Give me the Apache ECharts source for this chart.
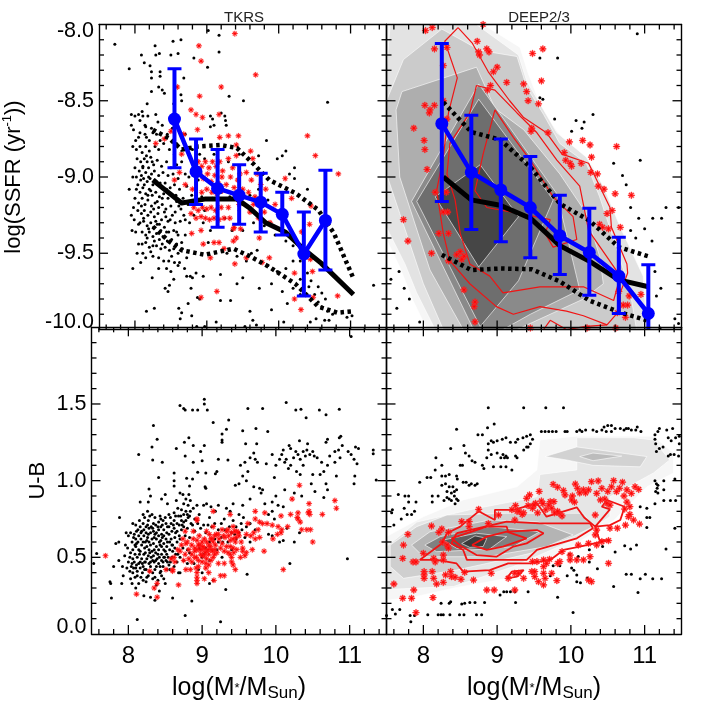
<!DOCTYPE html>
<html><head><meta charset="utf-8">
<style>html,body{margin:0;padding:0;background:#fff}#c{width:709px;height:709px}</style>
<script src="https://cdn.jsdelivr.net/npm/echarts@6/dist/echarts.min.js"></script>
</head><body><div id="c"></div>
<script>
const xMajor=[8,9,10,11];
const xMinor=[7.6,7.8,8.2,8.4,8.6,8.8,9.2,9.4,9.6,9.8,10.2,10.4,10.6,10.8,11.2,11.4];
const ssfrMajor=[-9.5,-9,-8.5];
const ssfrMinor=[-9.9,-9.8,-9.7,-9.6,-9.4,-9.3,-9.2,-9.1,-8.9,-8.8,-8.7,-8.6,-8.4,-8.3,-8.2,-8.1];
const ubMajor=[.5,1,1.5];
const ubMinor=[.1,.2,.3,.4,.6,.7,.8,.9,1.1,1.2,1.3,1.4,1.6,1.7,1.8,1.9];

/* TKRS SSFR panel */
const aBlack=[7.72,-8.13,7.92,-8.29,8.09,-8.2,8.13,-8.25,8.28,-8.14,8.21,-8.27,8.23,-8.31,8.23,-8.35,8.34,-8.19,8.29,-8.2,8.35,-8.31,8.35,-8.34,8.53,-8.11,8.64,-8.1,8.5,-8.2,8.6,-8.19,9.17,-8.07,9.02,-8.04,9.17,-8.18,8.82,-8.22,9.01,-8.28,8.68,-8.35,8.33,-8.41,8.38,-8.43,8.23,-8.44,8.41,-8.45,9.31,-8.47,9.51,-8.5,10.68,-8.51,8.17,-8.52,8.54,-8.52,8.65,-8.5,8.64,-8.46,
7.95,-8.59,8,-8.6,8.05,-8.59,8.1,-8.57,8.07,-8.63,8.11,-8.6,8.14,-8.66,7.95,-8.66,7.98,-8.69,8.15,-8.67,8.07,-8.71,8.05,-8.74,8.01,-8.76,7.97,-8.8,8.07,-8.8,8.14,-8.72,8.2,-8.76,8.25,-8.71,8.29,-8.59,8.18,-8.6,8.38,-8.66,8.32,-8.64,8.02,-8.82,8.1,-8.84,8.15,-8.8,8.2,-8.83,8.28,-8.8,8.33,-8.82,8.4,-8.78,8.48,-8.82,8.55,-8.85,8.03,-8.88,8.08,-8.9,8.13,-8.88,8.17,-8.9,8.22,-8.87,8.26,-8.92,8.31,-8.89,8.37,-8.93,8.44,-8.9,8.5,-8.94,8.58,-8.92,8.65,-8.9,8,-8.94,8.06,-8.96,8.11,-8.94,8.15,-8.97,8.19,-8.94,8.23,-8.98,8.27,-8.96,8.33,-8.99,8.39,-8.97,8.46,-8.99,8.53,-8.98,8.6,-9.01,8.7,-8.98,7.92,-9.08,8.02,-9,8.08,-9.02,8.12,-9.01,8.17,-9.03,8.21,-9.01,8.25,-9.05,8.3,-9.03,8.36,-9.06,8.42,-9.04,8.49,-9.07,8.55,-9.05,8.62,-9.08,8.72,-9.06,8.02,-9.08,8.07,-9.1,8.11,-9.07,8.15,-9.11,8.2,-9.08,8.24,-9.12,8.29,-9.1,8.34,-9.13,8.4,-9.11,8.46,-9.14,8.52,-9.12,8.58,-9.16,8.67,-9.14,8,-9.14,8.05,-9.17,8.1,-9.14,8.14,-9.18,8.18,-9.15,8.23,-9.19,8.28,-9.17,8.33,-9.2,8.38,-9.18,8.43,-9.21,8.5,-9.19,8.56,-9.23,8.64,-9.21,7.98,-9.2,8.04,-9.22,8.09,-9.24,8.13,-9.22,8.18,-9.25,8.22,-9.23,8.27,-9.26,8.32,-9.24,8.37,-9.28,8.43,-9.26,8.49,-9.28,8.56,-9.3,8.63,-9.29,7.99,-9.28,8.07,-9.3,8.12,-9.29,8.17,-9.32,8.22,-9.3,8.26,-9.33,8.31,-9.31,8.36,-9.35,8.41,-9.33,8.47,-9.36,8.54,-9.35,8.6,-9.38,8.01,-9.36,8.1,-9.36,8.15,-9.38,8.2,-9.36,8.25,-9.39,8.3,-9.37,8.34,-9.41,8.39,-9.39,8.45,-9.42,8.51,-9.41,8.58,-9.44,8.65,-9.43,8.05,-9.44,8.1,-9.44,8.15,-9.43,8.2,-9.46,8.25,-9.45,8.3,-9.45,8.36,-9.47,8.42,-9.46,8.48,-9.48,8.54,-9.47,8.6,-9.5,7.97,-9.6,8.08,-9.56,8.15,-9.53,8.25,-9.52,8.33,-9.53,8.4,-9.55,8.47,-9.55,8.55,-9.56,8.62,-9.56,8.72,-9.53,8.5,-9.62,8.54,-9.67,8.48,-9.71,8.42,-9.73,8.46,-9.75,8.72,-9.65,8.77,-9.65,8.8,-9.66,8.85,-9.63,8.95,-9.65,9.19,-9.64,8.78,-9.73,8.87,-9.79,8.9,-9.8,
8.16,-9.88,8.27,-9.86,8.61,-9.86,8.65,-9.89,8.74,-9.83,8.79,-9.91,8.63,-9.93,8.86,-9.98,8.97,-9.98,9.13,-9.95,9.19,-9.81,9.33,-9.81,9.53,-9.98,9.64,-9.94,9.69,-9.97,10.07,-9.95,11.32,-9.71,
9.2,-8.58,9.25,-8.6,9.26,-8.63,9.05,-8.6,9.08,-8.62,9.1,-8.66,9.05,-8.67,9.27,-8.66,8.7,-8.72,8.8,-8.82,8.9,-8.85,8.97,-8.88,9.1,-8.85,9.3,-8.9,9.45,-8.85,9.72,-8.86,9.83,-8.76,9.98,-8.88,10.1,-8.83,10.05,-8.86,10.22,-8.94,10.15,-8.98,10.22,-9.01,10.4,-9.08,8.85,-9.08,8.93,-9.13,9,-9.02,9.08,-9.14,9.2,-9.1,9.32,-9.13,9.45,-9.22,9.5,-9.18,9.6,-9.12,9.72,-9.08,9.85,-9.15,8.7,-9.28,8.82,-9.25,8.95,-9.3,9.05,-9.35,9.15,-9.3,9.25,-9.27,9.35,-9.35,9.5,-9.35,9.65,-9.3,9.8,-9.32,9.95,-9.38,10.1,-9.42,10.2,-9.45,9.02,-9.43,9.28,-9.5,9.42,-9.52,9.55,-9.55,9.62,-9.5,9.7,-9.48,9.85,-9.58,9.98,-9.62,10.1,-9.6,10.2,-9.55,10.3,-9.55,10.4,-9.63,10.45,-9.68,10.55,-9.72,10.6,-9.76,10.65,-9.8,9.42,-9.7,9.5,-9.66,9.73,-9.73,9.9,-9.7,10.05,-9.75,10.2,-9.73,10.3,-9.77,10.42,-9.72,10.5,-9.77,10.55,-9.82,10.6,-9.85,10.68,-9.88,10.75,-9.9,10.52,-9.93,10.64,-9.94,10.7,-9.94,10.95,-9.92,11.02,-9.91,9.9,-9.87,10.12,-9.83,10.3,-9.67,10.44,-9.95,9.6,-9.88,
8.11,-8.93,8.16,-8.86,8.24,-8.9,8.19,-9,8.13,-9.05,8.28,-9.02,8.22,-9.09,8.35,-9.04,8.31,-9.16,8.18,-9.12,8.09,-9.19,8.26,-9.21,8.38,-9.14,8.44,-9.08,8.41,-9.23,8.29,-9.29,8.19,-9.34,8.12,-9.27,8.05,-9.31,8.34,-9.31,8.46,-9.29,8.52,-9.25,8.57,-9.12,8.61,-9.19,8.68,-9.25,8.74,-9.18,8.79,-9.12,8.76,-9.3,8.7,-9.38,8.66,-9.47,8.58,-9.36,8.44,-9.36,8.27,-9.42,8.17,-9.4,8.11,-9.5,8.22,-9.49,8.38,-9.44,8.51,-9.52,8.6,-9.58,8.69,-9.6,8.44,-9.6,8.33,-9.6,8.24,-9.66,8.16,-8.74,8.23,-8.68,8.3,-8.72,8.35,-8.76,8.45,-8.72,8.52,-8.68,8.58,-8.78,8.09,-8.99,8.04,-9.05,7.97,-9,7.95,-9.25,7.96,-9.35,8.03,-9.5,8.75,-9,8.83,-8.98,8.88,-9.02,8.92,-9.18,8.97,-9.22];
const aRed=[9.39,-8.06,8.89,-8.14,8.92,-8.24,9.68,-8.33,8.59,-8.41,9.2,-8.41,8.9,-8.47,8.78,-8.56,8.85,-8.59,8.94,-8.61,9.17,-8.59,8.87,-8.69,8.5,-8.7,8.68,-8.72,8.29,-8.78,8.41,-8.75,9.18,-8.74,9.3,-8.73,9.44,-8.73,9.41,-8.79,9.61,-8.83,9.64,-8.88,10.4,-8.73,10.51,-8.86,10.83,-8.98,10.09,-9.01,10.82,-9.78,10.31,-9.87,8.92,-9.79,9.14,-9.75,10.47,-9.62,10.22,-9.63,10.22,-9.8,10.48,-9.79,10.44,-9.54,10.43,-9.31,10.45,-9.19,10.32,-9.36,10.18,-9.14,9.95,-9.18,9.87,-9.53,9.77,-9.56,9.55,-9.53,9.39,-9.57,9.24,-9.47,9.37,-9.42,9.41,-9.4,9.17,-9.43,9.05,-9.53,8.95,-9.44,8.92,-9.35,8.79,-9.37,9.1,-9.43,9.73,-9.4,9.47,-9.34,9.37,-9.34,8.55,-9.02,8.65,-8.85,8.62,-8.97,8.7,-9.05,8.8,-9.08,
8.88,-8.9,8.93,-8.93,8.98,-8.9,9.03,-8.94,9.08,-8.9,9.13,-8.93,9.18,-8.9,9.22,-8.96,9.3,-8.88,9.36,-8.94,9.41,-8.86,9.46,-8.98,9.55,-8.97,9.62,-9.02,9.7,-8.98,9.75,-9.05,9.82,-9.08,8.9,-8.98,8.95,-9.01,9.01,-8.98,9.06,-9.03,9.11,-8.99,9.16,-9.04,9.21,-9,9.27,-9.05,9.33,-9,9.38,-9.07,9.43,-9.02,9.5,-9.08,9.58,-9.1,9.67,-9.13,8.93,-9.1,9,-9.08,9.07,-9.1,9.14,-9.11,9.22,-9.09,8.82,-9.2,8.88,-9.22,8.94,-9.2,9,-9.21,9.06,-9.2,9.12,-9.22,9.2,-9.2,8.78,-9.24,8.85,-9.27,8.92,-9.26,8.98,-9.27,9.04,-9.28,9.1,-9.27,9.17,-9.28,9.24,-9.27,9.32,-9.27,9.38,-9.33,9.3,-9.2,9.45,-9.18,9.6,-9.23,9.72,-9.27,9.8,-9.23,9.88,-9.3,9.65,-9.18,9.75,-9.15];
const aMean=[8.55,-8.62,8.85,-8.965,9.15,-9.075,9.45,-9.12,9.75,-9.165,10.05,-9.245,10.35,-9.505,10.65,-9.285];
const aErrLow=[-8.94,-9.18,-9.33,-9.31,-9.36,-9.38,-9.78,-9.61];
const aErrHigh=[-8.29,-8.75,-8.82,-8.92,-8.975,-9.1,-9.23,-8.955];
const aMedian=[8.25,-9.02,8.38,-9.07,8.65,-9.17,8.97,-9.145,9.42,-9.145,9.6,-9.205,9.82,-9.3,10.09,-9.36,10.34,-9.47,10.59,-9.565,11.04,-9.77];
const aUpper=[8.25,-8.69,8.47,-8.745,8.65,-8.82,8.88,-8.8,9.19,-8.79,9.42,-8.81,9.64,-8.91,9.87,-9.02,10.23,-9.105,10.55,-9.215,10.77,-9.37,11.04,-9.665];
const aLower=[8.25,-9.325,8.47,-9.42,8.65,-9.48,8.97,-9.51,9.37,-9.47,9.6,-9.52,9.87,-9.59,10.23,-9.7,10.55,-9.85,10.82,-9.89,11.04,-9.88];

/* DEEP2/3 SSFR panel */
const bBlack=[10.9,-8.06,9.58,-8.22,9.82,-8.22,9.58,-8.48,9.62,-8.49,9.78,-8.62,10.07,-8.63,10.18,-8.64,10.3,-8.59,10.01,-8.7,10.15,-8.68,10.94,-8.89,10.58,-8.91,10.7,-8.99,10.75,-9.05,10.81,-9.2,11.29,-9.2,11.46,-9.2,10.92,-9.27,11.11,-9.27,11.23,-9.27,10.81,-9.35,11,-9.34,10.88,-9.4,11.1,-9.42,11.14,-9.62,11.22,-9.73,11.16,-9.78,11.41,-9.93,11.46,-9.96,11.21,-9.99,7.56,-9.67,7.67,-9.62,7.74,-9.73,7.81,-9.8,7.64,-9.86,7.95,-9.95];
const bRed=[8.03,-8.04,8.12,-8.02,8.73,-8.11,8.15,-8.16,8.32,-8.15,8.27,-8.27,8.75,-8.18,8.76,-8.2,8.86,-8.16,8.89,-8.18,9.48,-8.19,9.62,-8.16,9,-8.28,8.95,-8.31,9.13,-8.38,8.91,-8.4,8.87,-8.43,9.36,-8.39,9.6,-8.37,9.4,-8.44,9.42,-8.5,9.56,-8.52,8.02,-8.53,8.15,-8.53,8.09,-8.56,8.08,-8.58,8.27,-8.5,7.87,-8.68,8.01,-8.76,8.02,-8.82,8.32,-8.62,9.47,-8.68,9.46,-8.7,9.69,-8.71,9.98,-8.77,10.16,-8.76,10.26,-8.79,10.62,-8.8,9.91,-8.84,10.28,-8.87,9.93,-8.89,9.99,-8.91,10.01,-8.93,10.14,-8.91,8.05,-8.95,10.27,-8.97,10.36,-8.98,10.37,-9.06,10.45,-9.08,10.6,-9.11,10.82,-9.12,8.16,-9.1,8.31,-9.1,10.56,-9.22,10.49,-9.24,10.39,-9.31,10.43,-9.33,10.51,-9.34,10.67,-9.33,8.27,-9.23,8.33,-9.23,7.73,-9.28,8.21,-9.37,8.34,-9.37,7.79,-9.42,8.11,-9.5,8.45,-9.51,8.5,-9.49,8.55,-9.52,8.52,-9.54,8.34,-9.55,8.55,-9.74,8.7,-9.82,8.69,-9.85,8.7,-9.95,10.79,-9.78,10.95,-9.77,10.65,-9.75,10.71,-9.84,10.77,-9.84,10.74,-9.92,10.63,-9.89,9.45,-9.99,10.22,-9.99,10.61,-9.99,8.81,-8];
const bMean=[8.25,-8.65,8.65,-8.97,9.05,-9.085,9.45,-9.2,9.85,-9.385,10.25,-9.495,10.65,-9.65,11.05,-9.895];
const bErrLow=[-9.16,-9.345,-9.425,-9.53,-9.64,-9.775,-9.895,-10.2];
const bErrHigh=[-8.125,-8.595,-8.75,-8.865,-9.12,-9.205,-9.395,-9.575];
const bMedian=[8.27,-9,8.65,-9.15,9.04,-9.185,9.45,-9.27,9.85,-9.45,10.26,-9.555,10.65,-9.675,11.05,-9.72];
const bUpper=[8.27,-8.51,8.65,-8.705,9.04,-8.755,9.45,-8.935,9.85,-9.175,10.25,-9.285,10.65,-9.46,11.05,-9.52];
const bLower=[8.25,-9.51,8.65,-9.61,9.04,-9.6,9.47,-9.605,9.85,-9.685,10.25,-9.81,10.65,-9.885,11.03,-9.94];
const bShade1=[7.5,-8,8.81,-8,9.31,-8.15,9.42,-8.32,9.63,-8.58,9.94,-8.78,10.3,-8.93,10.53,-9.2,10.89,-9.55,11.07,-9.76,11.1,-10,8.05,-10,7.86,-9.81,7.68,-9.59,7.5,-9.41];
const bShade2=[7.55,-8,8.72,-8,9.29,-8.2,9.4,-8.37,9.63,-8.56,9.81,-8.71,10.21,-8.87,10.44,-9.06,10.67,-9.33,10.98,-9.65,11.03,-10,8.16,-10,7.91,-9.76,7.75,-9.57,7.5,-9.33,7.5,-8.3];
const bShade3=[7.5,-8.5,7.73,-8.23,8.25,-8.03,8.77,-8.17,9.27,-8.21,9.4,-8.41,9.63,-8.59,9.85,-8.78,10.21,-8.91,10.39,-9.13,10.58,-9.41,10.8,-9.74,10.89,-10,8.27,-10,8,-9.7,7.68,-9.24,7.5,-8.98];
const bShade4=[7.63,-8.56,7.71,-8.44,8.72,-8.28,8.97,-8.55,9.36,-8.69,9.85,-8.98,10.21,-9.24,10.39,-9.52,10.44,-9.7,10.17,-9.8,9.27,-10,8.54,-10,8.09,-9.61,7.68,-9];
const bShade5=[7.84,-9.16,8.75,-8.39,9.81,-9.11,10.12,-9.74,9.45,-9.9,9.08,-10,8.68,-10];
const bShade6=[7.91,-9.16,8.75,-8.49,9.76,-9.15,9.29,-9.68,8.77,-9.98];
const bShade7=[8.16,-9.13,8.77,-8.92,9.29,-9.26,8.75,-9.59];
const bContour1=[8.47,-8.02,8.66,-8.12,8.88,-8.31,9.17,-8.5,9.36,-8.61,9.67,-8.71,9.88,-8.85,10.24,-8.91,10.35,-9.02,10.53,-9.2,10.55,-9.33,10.76,-9.57,10.77,-9.63,10.67,-9.76,10.67,-9.87,10.49,-9.97,10.17,-9.91,9.94,-9.88,9.58,-9.85,9.22,-9.9,8.99,-9.85,8.63,-9.7,8.36,-9.55,8.27,-9.37,8.18,-9.09,8.27,-8.87,8.34,-8.58,8.46,-8.35,8.29,-8.11,8.47,-8.02];
const bContour2=[10.49,-9.97,10.21,-9.98,9.94,-10,9.72,-9.94,9.63,-10];
const bContour3=[8.72,-8.4,8.97,-8.43,9.27,-8.58,9.54,-8.71,9.81,-8.89,10.12,-9.06,10.24,-9.35,10.67,-9.65,10.58,-9.81,10.17,-9.72,9.58,-9.72,9.08,-9.76,8.9,-9.65,8.63,-9.57,8.5,-9.37,8.43,-9.15,8.32,-8.98,8.36,-8.78,8.63,-8.58,8.72,-8.4];
const bContour4=[8.97,-8.56,9.22,-8.74,9.45,-8.89,9.76,-9.13,10.03,-9.26,10.08,-9.41,9.76,-9.46,9.65,-9.37,9.72,-9.28,9.31,-9.24,8.86,-9.2,8.7,-9.09,8.81,-8.85,8.97,-8.56];

/* TKRS colour panel */
const cBlack=[8.7,1.49,8.75,1.47,8.77,1.46,8.87,1.46,8.94,1.46,9.03,1.53,9.03,1.5,9.07,1.46,9.62,1.47,9.82,1.47,10.14,1.51,10.27,1.46,10.34,1.465,10.41,1.41,10.59,1.46,10.68,1.43,10.86,1.465,9.15,1.38,9.36,1.395,9.33,1.335,9.27,1.305,9.27,1.265,9.27,1.25,9.55,1.325,9.73,1.34,9.89,1.32,9.59,1.24,9.74,1.24,8.34,1.36,8.39,1.27,8.32,1.22,8.14,1.17,8.33,1.135,8.46,1.12,8.41,1.02,8.28,.945,8.65,1.21,8.76,1.25,8.82,1.28,8.77,1.16,8.88,1.23,9.03,1.23,8.98,1.19,8.88,1.12,9,1.13,9.22,1.14,9.35,1.135,8.62,1.05,8.94,1.055,9.05,1.05,9.2,1.06,9.18,1.045,8.62,1,8.62,.965,8.79,1.015,8.87,1.01,8.83,.965,9.04,.96,9.05,.95,8.7,.92,8.74,.91,8.82,.91,
10.97,.49,10.19,.46,9.61,.39,9.32,.29,9.25,.08,8.77,.12,8.12,.095,8.86,.215,8.6,.235,7.77,.235,7.57,.525,7.53,.46,11.32,1.2,11.32,1.175,11.36,1.005,11.02,1.94,
9.45,.97,9.5,.98,9.55,1.03,9.52,1.1,9.58,1.12,9.62,1.06,9.6,1,9.65,1.15,9.7,1.18,9.72,1.14,9.75,1.12,9.7,.96,9.78,.95,9.82,.94,9.8,.92,9.87,1.11,9.95,1.17,9.98,1.02,10,1.1,10.05,1.14,10.08,1.17,10.1,1.2,10.14,1.14,10.12,1.12,10.18,1.23,10.17,1.08,10.2,1.1,10.24,1.15,10.27,1.19,10.3,1.17,10.33,1.14,10.28,1.06,10.33,1.04,10.37,1.1,10.4,1.16,10.42,1.2,10.46,1.17,10.5,1.19,10.52,1.16,10.56,1.15,10.6,1.04,10.65,1.06,10.62,1.12,10.7,1.1,10.73,1.16,10.8,1.19,10.85,1.2,10.9,1.23,10.88,1.29,10.86,1.28,10.7,1.27,10.68,1.25,10.32,1.26,10.43,1.24,10.2,1.21,10.37,1.19,10.8,1.12,10.87,1.15,10.98,1.19,11.02,1.17,11.06,1.14,11.08,1.22,11.12,1.21,11.1,1.11,11.07,1.03,11.06,.98,10.7,.94,10.65,.89,10.68,.98,10.82,1.03,10.5,1.04,10.48,.98,10.53,.93,10.35,.9,10.25,.92,10.12,.94,10,.9,10.03,.84,10.1,.83,9.95,.86,9.85,.85,9.65,.88,9.55,.84,9.42,.85,9.38,.8,9.9,.78,9.95,.8,9.98,.75,9.6,.7,9.65,.72,9.72,.68,10.05,.6,10.1,.61,10.25,.6,10.32,.66,9.95,.64,9.9,.65,10.15,.69,
7.88,.76,7.97,.66,8,.64,7.96,.58,7.87,.6,7.83,.59,7.8,.44,7.87,.48,7.95,.51,7.92,.44,7.98,.43,7.93,.38,8.02,.41,8.06,.4,8.03,.36,7.91,.33,7.75,.34,7.76,.33,8.05,.33,8.09,.37,8.1,.3,8.14,.33,8.2,.35,8.24,.34,8.21,.25,8.36,.22,8.3,.24,8.42,.28,
8.03,.66,8.05,.6,8.06,.55,8.02,.5,8.05,.46,8.08,.65,8.1,.62,8.1,.57,8.09,.52,8.08,.47,8.1,.43,8.12,.41,8.13,.68,8.14,.64,8.13,.6,8.14,.55,8.12,.5,8.14,.46,8.16,.7,8.17,.66,8.17,.62,8.18,.58,8.16,.54,8.18,.49,8.16,.43,8.19,.4,8.2,.72,8.21,.68,8.21,.64,8.2,.6,8.22,.56,8.21,.52,8.22,.47,8.2,.44,8.24,.7,8.24,.66,8.25,.61,8.25,.57,8.23,.53,8.25,.49,8.24,.42,8.27,.74,8.28,.69,8.27,.65,8.28,.6,8.28,.55,8.27,.51,8.28,.46,8.27,.38,8.31,.7,8.3,.66,8.32,.62,8.3,.58,8.32,.54,8.31,.5,8.3,.44,8.33,.36,8.34,.72,8.34,.67,8.35,.63,8.34,.59,8.35,.55,8.34,.51,8.35,.47,8.36,.42,8.37,.71,8.38,.66,8.38,.62,8.38,.57,8.37,.53,8.39,.49,8.38,.44,8.38,.32,8.41,.73,8.41,.68,8.41,.64,8.42,.6,8.41,.55,8.42,.5,8.41,.46,8.43,.4,8.44,.75,8.44,.7,8.45,.65,8.44,.61,8.45,.57,8.45,.52,8.45,.48,8.47,.74,8.48,.68,8.48,.64,8.48,.59,8.48,.55,8.49,.5,8.47,.44,8.51,.72,8.52,.66,8.51,.62,8.52,.57,8.52,.52,8.51,.48,8.55,.78,8.55,.7,8.55,.65,8.56,.6,8.56,.55,8.55,.45,8.58,.72,8.59,.67,8.58,.62,8.59,.58,8.59,.5,8.62,.79,8.62,.74,8.62,.69,8.63,.63,8.63,.56,8.65,.87,8.66,.72,8.66,.67,8.66,.6,8.68,.77,8.69,.71,8.69,.64,8.72,.81,8.72,.74,8.72,.68,8.75,.85,8.75,.78,8.75,.7,8.78,.88,8.78,.8,8.78,.74,8.81,.84,8.81,.76,8.84,.87,8.84,.8,8.85,.72,8.88,.82,8.9,.75,8.93,.84,8.96,.78,9.02,.84,9.06,.85,9.1,.76,9.12,.83,9.18,.8,9.22,.84,9.26,.72,9.3,.75,9.33,.82,9.42,.74,9.46,.7,9.5,.78,9.53,.72,9.56,.76,9.02,.52,9.1,.48,9.2,.55,9.27,.5,9.35,.6,9.4,.55,9.46,.62,9.15,.35,8.95,.42,9,.4,8.7,.4,8.75,.48,8.8,.55,8.5,.33,8.45,.38,8.32,.78,8.16,.86,8.27,.86,8.45,.88,8.5,.91,8.53,.85,8.3,.9,8.26,.8,8.2,.78,8.1,.71,8.06,.72,9.58,.63,9.65,.6,
8.07,.63,8.11,.59,8.15,.52,8.19,.46,8.23,.6,8.26,.63,8.29,.53,8.33,.48,8.36,.65,8.4,.52,8.43,.58,8.46,.63,8.5,.54,8.53,.6,8.57,.47,8.6,.54,8.64,.66,8.67,.52,8.7,.62,8.73,.71,8.77,.64,8.8,.69,8.83,.63,8.87,.71,8.9,.67,8.94,.72,8.98,.69,9.02,.71,9.05,.66,9.08,.71,9.13,.7,9.17,.72,9.22,.68,9.26,.63,9.31,.68,9.37,.7,9.4,.66,9.44,.65,9.5,.66,9.54,.68,8.11,.67,8.15,.74,8.18,.67,8.22,.76,8.26,.71,8.29,.77,8.33,.69,8.36,.76,8.4,.7,8.43,.77,8.46,.71,8.5,.76,8.53,.7,8.57,.76,8.61,.71,8.64,.77,8.67,.82,8.71,.77,8.75,.73,8.8,.78,8.83,.77,8.12,.38,8.17,.37,8.22,.42,8.25,.37,8.29,.41,8.33,.4,8.36,.37,8.4,.35,8.44,.41,8.48,.36,8.52,.42,8.53,.47,8.47,.47,8.56,.42,8.62,.44,8.66,.47,8.68,.4,7.99,.56,8.03,.53,8,.47,8.04,.44,8.07,.43,8.06,.49,8.09,.58,8.16,.47,8.11,.45,8.23,.47,8.3,.47,8.37,.48,8.43,.44,8.48,.5,8.54,.5,8.6,.58,8.64,.52,8.7,.5,8.74,.56,8.8,.46,8.83,.53,8.89,.46,8.96,.56,9,.5,9.05,.56,9.1,.6,9.17,.62,9.22,.6,9.1,.33,9.28,.6];
const cRed=[7.69,.51,8.11,.26,8.29,.41,8.35,.3,8.39,.33,8.39,.24,8.68,.32,8.6,.42,8.6,.41,8.51,.42,8.78,.42,8.84,.42,8.92,.43,8.93,.4,8.93,.37,8.93,.33,8.93,.35,9.03,.36,9.09,.45,9.09,.4,9.16,.35,9.25,.38,9.3,.38,9.45,.42,10.1,.42,9.84,.54,9.6,.53,9.58,.51,9.68,.55,9.55,.54,9.4,.47,9.42,.45,9.38,.52,9.3,.46,9.22,.46,9.17,.55,10.5,.6,10.63,.78,10.45,.8,10.45,.85,10.46,.78,10.44,.79,10.82,.82,10.8,.87,10.32,.97,10.22,.88,10.3,.79,10.29,.76,10.2,.78,10.33,.73,10.35,.68,10.42,.68,10.47,.68,10.3,.75,10.16,.7,10.07,.77,10.03,.7,10.08,.68,10.07,.66,10.02,.65,9.96,.62,9.95,.71,9.88,.72,9.82,.72,9.76,.68,9.7,.66,9.78,.73,9.72,.75,9.72,.8,9.85,.79,9.62,.72,9.66,.64,9.72,.62,9.78,.63,9.6,.65,9.53,.6,9.5,.64,9.46,.63,9.55,.56,9.47,.67,9.42,.7,9.35,.68,9.38,.61,9.33,.57,9.27,.59,9.31,.63,9.27,.68,9.22,.65,9.17,.64,9.15,.7,9.15,.8,9.38,.78,9.06,.67,8.93,.75,8.93,.74,8.77,.67,8.88,.67,
8.67,.55,8.62,.5,8.58,.49,8.63,.47,8.7,.54,8.72,.58,8.77,.52,8.75,.48,8.8,.6,8.82,.55,8.82,.49,8.86,.58,8.86,.52,8.88,.62,8.9,.56,8.9,.5,8.93,.61,8.93,.55,8.95,.48,8.96,.64,8.97,.58,8.98,.52,9,.6,9,.55,9,.47,9.03,.62,9.03,.56,9.03,.51,9.06,.6,9.06,.54,9.06,.49,9.09,.58,9.09,.52,9.12,.62,9.12,.55,9.15,.6,9.15,.5,9.18,.58,9.2,.53,9.25,.56,9.3,.54,9.35,.53,9.38,.57,9.42,.56,9.45,.6,9.42,.62,9.47,.55,9.52,.5,8.95,.44,9.05,.43,8.78,.59,8.74,.62,9.1,.65,9.12,.48,
8.86,.47,8.9,.54,8.95,.58,9.01,.57,9.04,.53,9.08,.55,9.11,.57,9.14,.54,9.17,.52,9.13,.62,9.19,.65,9.23,.62,9.29,.64,9.33,.67,9.36,.64,9.4,.66,9.44,.67,9.49,.66,9.4,.5,9.43,.53,9.05,.46,9,.51,8.97,.55,8.92,.5];
/* DEEP2/3 colour panel */
const dBlack=[8.88,1.475,9.36,1.475,9.66,1.475,9.9,1.475,8.96,1.37,8.87,1.345,8.45,1.335,8.74,1.3,8.8,1.3,9.7,1.32,9.75,1.32,9.65,1.32,9.6,1.32,9.8,1.32,9.92,1.32,9.95,1.32,10.08,1.32,10.12,1.33,10.15,1.32,10.2,1.33,10.3,1.33,10.35,1.32,10.42,1.33,10.45,1.35,10.5,1.36,10.55,1.36,10.48,1.32,10.55,1.32,10.6,1.34,10.67,1.34,10.72,1.33,10.75,1.34,10.78,1.34,10.82,1.33,10.9,1.35,10.88,1.33,10.95,1.32,
8.88,1.24,8.92,1.26,8.95,1.25,9,1.26,9.07,1.27,9.12,1.28,9.18,1.25,9.25,1.25,9.28,1.27,9.35,1.28,9.4,1.29,9.45,1.3,9.48,1.27,9.45,1.24,9.4,1.22,9.36,1.2,9.42,1.22,8.88,1.2,8.92,1.17,9,1.18,9.05,1.15,9.08,1.17,9.1,1.15,9.12,1.16,9.14,1.15,9.25,1.16,9.27,1.15,8.86,1.15,8.8,1.1,8.7,1.12,8.66,1.13,8.5,1.1,8.53,1.1,8.57,1.18,8.62,1.16,8.55,1.23,8.37,1.21,8.17,1.15,8.05,1.02,8.1,1.02,7.95,.99,8.25,1.1,8.16,1.07,8.25,1.03,8.3,1.03,8.35,1.04,8.45,1.03,8.46,1.01,8.82,1.08,8.95,1.09,9.05,1.09,9.12,1.09,9.2,1.07,
8.54,.99,8.58,.99,8.62,.97,8.65,.98,8.7,.97,8.73,.98,8.25,.97,8.3,.98,8.35,.96,8.4,.96,8.45,.94,8.32,.93,8.38,.92,8.42,.9,8.45,.88,8.35,.88,8.38,.87,8.32,.89,8.28,.87,8.2,.9,8.12,.86,8.12,.9,8.43,.85,8.47,.87,8.42,.93,
7.58,.81,7.66,.91,7.75,.9,7.8,.9,7.74,.82,7.84,.78,7.88,.8,7.6,.71,7.57,.79,7.8,.86,7.78,.78,7.7,.75,7.9,.86,
7.5,.12,7.58,.16,7.62,.13,7.68,.16,7.82,.12,7.83,.08,7.88,.12,8.06,.125,8.2,.125,8.24,.125,8.27,.125,8.36,.125,8.49,.125,8.55,.125,8.72,.125,8.79,.125,8.24,.2,8.35,.2,8.37,.21,8.52,.195,8.56,.2,8.63,.205,8.7,.205,8.83,.205,9.04,.255,9.09,.275,9.13,.275,9.18,.275,9.24,.275,9.25,.205,9.42,.275,9.82,.24,10.03,.14,10.58,.31,10.91,.27,
10.75,.39,10.82,.39,10.94,.36,11.01,.39,11.11,.36,11.23,.36,11.03,.695,11.41,.69,11.29,.555,10.73,.575,10.81,.555,10.89,.58,10.6,.535,10.43,.57,10.25,.55,10.25,.47,9.98,.52,10.1,.505,10.01,.43,10.04,.415,10.08,.385,9.95,.38,9.85,.445,9.76,.445,9.72,.38,10.08,.34,10.36,.425,10.13,.335,10.22,.365,
11.14,1,11.16,.98,11.18,.97,11.17,.95,11.15,.93,10.94,.83,11.03,.82,11.14,.85,11.26,.87,11.35,.87,11.42,.87,11.07,.76,11.03,.76,11.26,.94,11.18,.92,11.26,1,11.41,1.01,
11.14,1.3,11.18,1.32,11.2,1.34,11.14,1.27,11.3,1.33,11.38,1.34,11.32,1.28,11.36,1.26,11.42,1.28,11.47,1.29,11.47,1.24,11.15,1.24,11.2,1.21,11.16,1.19,11.35,1.17,11.32,1.16,11.4,1.17,11.46,1.16,11.25,1.22];
const dRed=[9.76,.976,9.82,.957,10.06,.978,10.09,.95,10.17,.94,10.12,.92,10.28,.993,10.37,.998,10.58,1,10.55,.96,10.7,.99,10.42,.95,10.35,.917,10.62,.928,10.76,.94,10.87,.96,10.92,.943,10.82,.917,9.57,.93,9.44,.907,9.4,.885,9.9,.935,9.92,.907,10.01,.874,9.72,.863,9.77,.863,9.6,.867,9.52,.852,9.42,.837,9.25,.837,9.2,.81,9.27,.8,9.36,.79,9.02,.776,8.75,.813,9.78,.79,9.84,.787,10.4,.874,10.49,.852,10.53,.84,10.33,.776,10.73,.815,10.8,.83,10.78,.765,10.85,.743,10.93,.717,10.74,.71,10.63,.69,10.53,.69,10.35,.678,10.33,.646,9.24,.743,
8.11,.704,7.79,.65,7.73,.58,7.72,.493,7.86,.47,7.9,.47,8,.526,8.25,.685,8.34,.663,8.21,.663,8.52,.733,8.62,.733,8.62,.7,8.26,.6,8.32,.58,8.34,.56,8.14,.493,8.27,.515,8.27,.483,8.16,.47,8.01,.407,8.01,.385,8.01,.363,8.12,.407,8.14,.363,8.18,.326,8.3,.385,8.27,.337,8.37,.407,8.38,.374,8.43,.37,8.51,.357,8.56,.402,8.68,.352,8.92,.396,7.6,.326,7.87,.287,7.72,.233,7.84,.233,8.13,.237,7.9,.139,8.86,.287,8.96,.287,9.24,.287,
9.24,.396,9.29,.396,9.36,.363,9.15,.363,9.47,.407,9.51,.407,9.51,.374,9.56,.341,9.63,.32,9.65,.363,9.63,.396,9.63,.439,9.67,.46,9.74,.396,9.81,.348,9.85,.472,9.82,.46,9.71,.487,9.63,.483,9.54,.472,9.48,.472,9.88,.537,9.99,.515,9.99,.483,10.08,.483,10.17,.483,10.26,.504,10.1,.58,10.24,.591,10.35,.58,10.42,.602,10.51,.461,10.24,.352,10.28,.341,10.51,.609,
9.3,.8,9.34,.78,9.48,.82,9.55,.79,9.62,.85,9.7,.84,9.66,.81,10.02,.9,10.05,.86,10.2,.92,10.24,.94,10.46,.88,10.5,.93,10.66,.95,10.72,.9,10.76,.86,10.8,.78,9.82,.8,9.88,.77,8.88,.72,9.5,.84,9.74,.82];
/* DEEP2/3 colour panel contours */
const dShade1=[7.5,.635,8,.765,8.54,.874,9.27,.96,9.54,1.07,9.58,1.265,10.08,1.29,11.12,1.29,11.39,1.18,11.39,1.05,11.03,.96,10.58,.74,9.94,.55,9.22,.37,8.41,.3,7.86,.24,7.5,.22];
const dShade2=[7.5,.57,7.91,.73,8.63,.81,9.54,.895,9.58,1.04,10.08,1.07,10.08,1.28,10.85,1.28,11.12,1.265,11.34,1.135,11.12,1.05,10.53,.895,10.53,.765,10.03,.61,9.22,.44,8.41,.31,7.5,.29];
const dShade3=[7.55,.58,7.91,.7,8.32,.776,9.13,.787,10.17,.787,10.3,.7,10.03,.635,9.45,.526,8.86,.46,8.45,.417,7.73,.363,7.55,.44];
const dShade3b=[9.65,1.157,10.08,1.22,11.03,1.157,10.94,1.09,10.3,1.1,9.94,1.135];
const dShade3c=[10.12,1.157,10.3,1.18,10.69,1.16,10.3,1.13];
const dShade4=[7.84,.58,8.09,.667,8.9,.743,9.54,.733,10.03,.646,9.67,.57,8.86,.504,8,.504];
const dShade5=[8.02,.58,8.23,.635,8.9,.7,9.58,.667,9.22,.57,8.67,.548,8.18,.537];
const dShade6=[8.27,.613,8.72,.657,9.13,.635,8.88,.548,8.45,.559];
const dShade7=[8.52,.59,8.7,.64,8.86,.624,8.81,.57,8.63,.565];
const dContour1=[7.95,.483,8.25,.59,8.32,.657,8.5,.7,8.75,.8,8.97,.743,8.97,.81,9.22,.81,9.54,.852,9.67,.765,10.08,.826,10.18,.76,10.33,.7,10.53,.71,10.67,.743,10.73,.83,10.49,.874,10.42,.83,10.53,.813,10.33,.7,10.39,.61,10.53,.613,10.12,.57,9.9,.548,9.72,.483,9.45,.46,9.15,.46,8.9,.417,8.54,.407,8.45,.46,8.18,.483,7.95,.483];
const dContour2=[8.45,.657,9.13,.733,9.58,.722,10.26,.722,10.3,.689,10.08,.624,9.54,.548,9.4,.483,8.59,.483,8.54,.548,8.38,.591,8.45,.657];
const dContour3=[8.38,.624,8.86,.7,9.13,.7,9.15,.667,9.54,.678,9.63,.657,9.4,.591,9.22,.57,8.99,.504,8.72,.515,8.52,.57,8.38,.624];
const dContour4=[8.66,.58,8.86,.635,9.13,.667,9.4,.624,9.08,.57,8.86,.548,8.66,.58];
const dContour5=[9.13,.363,9.2,.407,9.36,.417,9.27,.374,9.13,.363];

const pairs=f=>{const o=[];for(let i=0;i<f.length;i+=2)o.push([f[i],f[i+1]]);return o;};
const star='path://M4.4 0h1.2v3.2L8 1l.9.9-2.3 2.5H10v1.2H6.6L8.9 8l-.9.9-2.4-2.3V10H4.4V6.6L2 8.9 1.1 8l2.3-2.4H0V4.4h3.4L1.1 2 2 1l2.4 2.3z';
const font='"Liberation Sans",Arial,sans-serif';
const ink={color:'#000',width:1.4};
const xAxes=[],yAxes=[],series=[];

function addX(g,pos,labels,name){
  xAxes.push({type:'value',gridIndex:g,position:pos,min:7.5,max:11.5,interval:1,z:6,
    axisLine:{show:true,onZero:false,lineStyle:ink},
    axisTick:{show:false},
    splitLine:{show:false},
    axisLabel:labels?{show:true,customValues:xMajor,fontFamily:font,fontSize:24,color:'#000',margin:10}:{show:false},
    name:name?'{a|log(M}{s|*}{a|/M}{b|Sun}{a|)}':'',nameLocation:'middle',nameGap:40,
    nameTextStyle:{rich:{a:{fontFamily:font,fontSize:25,color:'#000',lineHeight:28},s:{fontFamily:font,fontSize:13,color:'#000',lineHeight:28,verticalAlign:'middle'},b:{fontFamily:font,fontSize:17,color:'#000',lineHeight:28,verticalAlign:'bottom'}}}});
}
function addY(g,pos,min,max,labels,name,gap){
  yAxes.push({type:'value',gridIndex:g,position:pos,min,max,interval:.5,z:6,
    axisLine:{show:true,onZero:false,lineStyle:ink},
    axisTick:{show:false},minorTick:{show:false},
    splitLine:{show:false},minorSplitLine:{show:false},
    axisLabel:labels?{show:true,fontFamily:font,fontSize:21.5,color:'#000',margin:5,lineHeight:14,
      verticalAlignMinLabel:'bottom',verticalAlignMaxLabel:'top',
      formatter:v=>v>=2?'':v.toFixed(1)}:{show:false},
    name:name||'',nameLocation:'middle',nameGap:gap||0,
    nameTextStyle:{rich:{a:{fontFamily:font,fontSize:22,color:'#000',lineHeight:26},s:{fontFamily:font,fontSize:13,color:'#000',lineHeight:26,verticalAlign:'top'}}}});
}
const grids=[
 {left:91.5,top:24.5,width:295,height:305},
 {left:386.5,top:24.5,width:295,height:305},
 {left:91.5,top:327.3,width:295,height:306.7},
 {left:386.5,top:327.3,width:295,height:306.7}];
[0,1,2,3].forEach(g=>{
  const low=g>=2,left=g%2===0;
  addX(g,'bottom',low,low);
  addX(g,'top',false,false);
  const mn=low?0:-10,mx=low?2:-8;
  addY(g,'left',mn,mx,left,left?(low?'{a|U-B}':'{a|log(SSFR (yr}{s|-1}{a|))}'):'',low?41:72);
  addY(g,'right',mn,mx,false,'',0);
});
const ax=g=>({xAxisIndex:g*2,yAxisIndex:g*2});

/* tick marks placed through the axis scales, inward from all four edges */
function ticks(g,yMajor,yMinor,yLo,yHi){
  const rows=[];
  xMajor.forEach(v=>rows.push([v,yLo,9,0]));
  xMinor.forEach(v=>rows.push([v,yLo,5,0]));
  yMajor.forEach(v=>rows.push([7.5,v,9,1]));
  yMinor.forEach(v=>rows.push([7.5,v,5,1]));
  series.push({type:'custom',...ax(g),coordinateSystem:'cartesian2d',clip:false,z:7,silent:true,
    data:rows,encode:{x:0,y:1},
    renderItem:(p,api)=>{
      const len=api.value(2),vert=api.value(3)===0;
      const st={stroke:'#000',lineWidth:1.3};
      if(vert){
        const a=api.coord([api.value(0),yLo]),b=api.coord([api.value(0),yHi]);
        return {type:'group',children:[
          {type:'line',shape:{x1:a[0],y1:a[1],x2:a[0],y2:a[1]-len},style:st},
          {type:'line',shape:{x1:b[0],y1:b[1],x2:b[0],y2:b[1]+len},style:st}]};
      }
      const a=api.coord([7.5,api.value(1)]),b=api.coord([11.5,api.value(1)]);
      return {type:'group',children:[
        {type:'line',shape:{x1:a[0],y1:a[1],x2:a[0]+len,y2:a[1]},style:st},
        {type:'line',shape:{x1:b[0],y1:b[1],x2:b[0]-len,y2:b[1]},style:st}]};
    }});
}
function shade(g,flat,fill){
  const pts=pairs(flat);
  series.push({type:'custom',...ax(g),coordinateSystem:'cartesian2d',clip:true,z:1,silent:true,
    data:[pts[0]],encode:{x:0,y:1},
    renderItem:(p,api)=>({type:'polygon',shape:{points:pts.map(q=>api.coord(q))},
      style:{fill,stroke:'rgba(255,255,255,.75)',lineWidth:.8}})});
}
function contour(g,flat,w){
  series.push({type:'line',...ax(g),data:pairs(flat),symbol:'none',z:2,silent:true,clip:true,
    lineStyle:{color:'#f01414',width:w},animation:false});
}
function dots(g,flat,size){
  series.push({type:'scatter',...ax(g),data:pairs(flat),symbol:'circle',symbolSize:size,z:2,silent:true,
    itemStyle:{color:'#000',opacity:1}});
}
function reds(g,flat,size,halo){
  series.push({type:'scatter',...ax(g),data:pairs(flat),symbol:star,symbolSize:size,z:3,silent:true,
    itemStyle:{color:'#f00',opacity:1,borderColor:'rgba(255,40,40,'+halo+')',borderWidth:1}});
}
function curve(g,flat,dash,w){
  series.push({type:'line',...ax(g),data:pairs(flat),symbol:'none',z:4,silent:true,clip:true,
    lineStyle:{color:'#000',width:w,type:dash?[3.5,3.5]:'solid',cap:'butt',join:'round'}});
}
function means(g,flat,lo,hi){
  const m=pairs(flat);
  series.push({type:'custom',...ax(g),coordinateSystem:'cartesian2d',clip:true,z:5,silent:true,
    data:m.map((q,i)=>[q[0],lo[i],hi[i]]),encode:{x:0,y:[1,2]},
    renderItem:(p,api)=>{
      const a=api.coord([api.value(0),api.value(1)]),b=api.coord([api.value(0),api.value(2)]);
      const s={stroke:'#0000ff',lineWidth:4};
      const c={stroke:'#0000ff',lineWidth:3};
      return {type:'group',children:[
        {type:'line',shape:{x1:a[0],y1:a[1],x2:b[0],y2:b[1]},style:s},
        {type:'line',shape:{x1:a[0]-7,y1:a[1],x2:a[0]+7,y2:a[1]},style:c},
        {type:'line',shape:{x1:b[0]-7,y1:b[1],x2:b[0]+7,y2:b[1]},style:c}]};
    }});
  series.push({type:'line',...ax(g),data:m,symbol:'circle',symbolSize:13,z:5,silent:true,showSymbol:true,
    itemStyle:{color:'#0000ff'},lineStyle:{color:'#0000ff',width:4.5}});
}

/* panel A */
dots(0,aBlack,3); reds(0,aRed,5.5,.3);
curve(0,aUpper,true,4.5); curve(0,aLower,true,4.5); curve(0,aMedian,false,5);
means(0,aMean,aErrLow,aErrHigh);
/* panel B */
[[bShade1,'#f6f6f6'],[bShade2,'#e3e3e3'],[bShade3,'#cbcbcb'],[bShade4,'#aeaeae'],[bShade5,'#8a8a8a'],[bShade6,'#6e6e6e'],[bShade7,'#464646']].forEach(s=>shade(1,s[0],s[1]));
dots(1,bBlack,3);
[bContour1,bContour2,bContour3,bContour4].forEach(c=>contour(1,c,1.2));
reds(1,bRed,6.5,.6);
curve(1,bUpper,true,4.5); curve(1,bLower,true,4.5); curve(1,bMedian,false,5);
means(1,bMean,bErrLow,bErrHigh);
/* panel C */
dots(2,cBlack,3); reds(2,cRed,5.5,.3);
/* panel D */
[[dShade1,'#f6f6f6'],[dShade2,'#e6e6e6'],[dShade3,'#cfcfcf'],[dShade3b,'#d2d2d2'],[dShade3c,'#bcbcbc'],[dShade4,'#b4b4b4'],[dShade5,'#808080'],[dShade6,'#5f5f5f'],[dShade7,'#3a3a3a']].forEach(s=>shade(3,s[0],s[1]));
dots(3,dBlack,3);
[dContour1,dContour2,dContour3,dContour4,dContour5].forEach(c=>contour(3,c,1.8));
reds(3,dRed,6.5,.6);
/* tick marks */
ticks(0,ssfrMajor,ssfrMinor,-10,-8);
ticks(1,ssfrMajor,ssfrMinor,-10,-8);
ticks(2,ubMajor,ubMinor,0,2);
ticks(3,ubMajor,ubMinor,0,2);

const chart=echarts.init(document.getElementById('c'),null,{renderer:'canvas'});
chart.setOption({
  animation:false,backgroundColor:'#fff',
  title:[
    {text:'TKRS',left:239,top:5,textAlign:'center',textStyle:{fontFamily:font,fontSize:15,fontWeight:'normal',color:'#222'}},
    {text:'DEEP2/3',left:534,top:5,textAlign:'center',textStyle:{fontFamily:font,fontSize:15,fontWeight:'normal',color:'#222'}}],
  grid:grids,xAxis:xAxes,yAxis:yAxes,series});
</script></body></html>
